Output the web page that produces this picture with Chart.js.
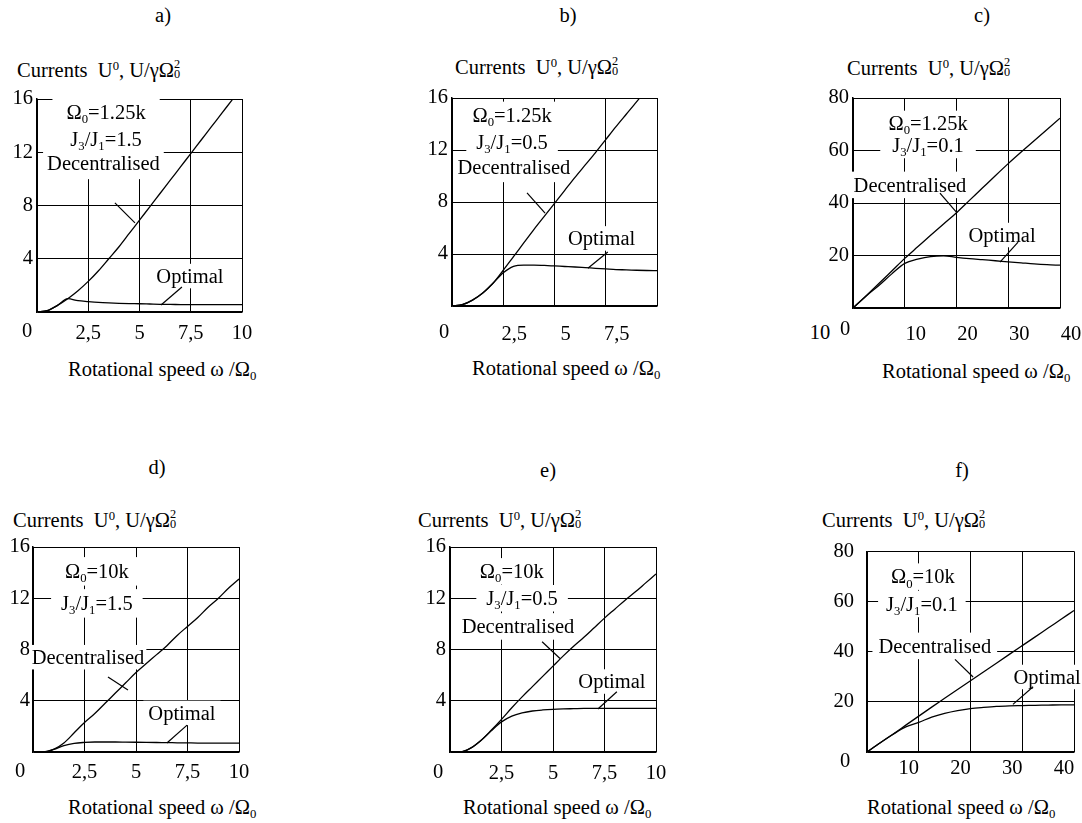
<!DOCTYPE html>
<html><head><meta charset="utf-8">
<script src="https://cdn.jsdelivr.net/npm/chart.js@4.4.1/dist/chart.umd.min.js"></script>
<style>
html,body{margin:0;padding:0;background:#fff;width:1082px;height:823px;overflow:hidden;position:relative;font-family:"Liberation Serif","Times New Roman",serif;color:#000;}
canvas{position:absolute;}
.t{position:absolute;font-size:20.5px;white-space:nowrap;line-height:1;transform:translateY(-50%);}
.c{transform:translate(-50%,-50%);}
sup{font-size:0.62em;vertical-align:0.55em;line-height:0;}
sub{font-size:0.62em;vertical-align:-0.3em;line-height:0;}
.st{display:inline-flex;flex-direction:column;font-size:0.6em;line-height:0.85;vertical-align:0.7em;}
</style>
</head><body>

<div class="t c" style="left:163px;top:15px">a)</div>
<div class="t c" style="left:568px;top:15px">b)</div>
<div class="t c" style="left:982px;top:15px">c)</div>
<div class="t c" style="left:157px;top:467px">d)</div>
<div class="t c" style="left:548px;top:470px">e)</div>
<div class="t c" style="left:962px;top:470px">f)</div>

<div class="t" style="left:17px;top:70px">Currents&nbsp; U<sup>0</sup>, U/γΩ<span class="st"><span>2</span><span>0</span></span></div>
<div class="t" style="left:455px;top:67px">Currents&nbsp; U<sup>0</sup>, U/γΩ<span class="st"><span>2</span><span>0</span></span></div>
<div class="t" style="left:847px;top:68px">Currents&nbsp; U<sup>0</sup>, U/γΩ<span class="st"><span>2</span><span>0</span></span></div>
<div class="t" style="left:13px;top:520px">Currents&nbsp; U<sup>0</sup>, U/γΩ<span class="st"><span>2</span><span>0</span></span></div>
<div class="t" style="left:418px;top:520px">Currents&nbsp; U<sup>0</sup>, U/γΩ<span class="st"><span>2</span><span>0</span></span></div>
<div class="t" style="left:822px;top:520px">Currents&nbsp; U<sup>0</sup>, U/γΩ<span class="st"><span>2</span><span>0</span></span></div>

<div class="t" style="left:68px;top:369px">Rotational speed ω /Ω<sub>0</sub></div>
<div class="t" style="left:472px;top:368px">Rotational speed ω /Ω<sub>0</sub></div>
<div class="t" style="left:882px;top:371px">Rotational speed ω /Ω<sub>0</sub></div>
<div class="t" style="left:68px;top:807px">Rotational speed ω /Ω<sub>0</sub></div>
<div class="t" style="left:463px;top:807px">Rotational speed ω /Ω<sub>0</sub></div>
<div class="t" style="left:867px;top:807px">Rotational speed ω /Ω<sub>0</sub></div>

<div class="t c" style="left:820px;top:332px">10</div>

<canvas id="ca"></canvas><canvas id="cb"></canvas><canvas id="cc"></canvas>
<canvas id="cd"></canvas><canvas id="ce"></canvas><canvas id="cf"></canvas>

<script>
// ---------- data ----------
const speed10 = [0,0.5,1,1.5,2,2.5,3,3.5,4,4.5,5,5.5,6,6.5,7,7.5,8,8.5,9,9.5,10];
const speed40 = [0,2.5,5,7.5,10,12.5,15,17.5,20,22.5,25,27.5,30,32.5,35,37.5,40];

const decA = [0,0.1,0.5,1.0,1.6,2.3,3.1,4.0,4.9,5.9,6.9,7.9,8.9,9.9,10.9,11.9,12.9,13.9,14.9,15.9,16.9];
const optA = [0,0.1,0.5,1.0,0.85,0.78,0.72,0.68,0.65,0.63,0.62,0.6,0.58,0.57,0.56,0.55,0.55,0.55,0.55,0.55,0.55];
const decB = [0,0.1,0.45,1.0,1.75,2.75,3.8,4.85,5.9,6.9,7.9,8.9,9.9,10.85,11.8,12.8,13.8,14.75,15.7,16.7,17.7];
const optB = [0,0.1,0.45,1.0,1.75,2.55,3.05,3.15,3.15,3.12,3.08,3.04,3.0,2.95,2.9,2.85,2.8,2.78,2.75,2.73,2.72];
const decC = [0,4.6,9.3,14.1,18.9,23.3,27.7,32.0,36.3,41.0,45.7,50.4,55.0,59.4,63.7,68.0,72.3];
const optC = [0,4.5,8.6,13.0,17.0,18.6,19.6,19.9,19.3,18.8,18.4,18.0,17.6,17.2,16.8,16.5,16.3];
const decD = [0,0,0.2,0.7,1.5,2.3,3.0,3.8,4.6,5.4,6.2,6.9,7.6,8.3,9.1,9.8,10.5,11.3,12.0,12.8,13.5];
const optD = [0,0,0.2,0.5,0.68,0.75,0.78,0.78,0.78,0.77,0.76,0.75,0.74,0.73,0.72,0.71,0.7,0.7,0.7,0.7,0.7];
const decE = [0,0,0.3,0.9,1.7,2.55,3.45,4.3,5.1,5.9,6.7,7.5,8.25,8.95,9.7,10.45,11.15,11.85,12.5,13.2,13.9];
const optE = [0,0,0.3,0.9,1.65,2.35,2.8,3.05,3.2,3.28,3.33,3.36,3.38,3.4,3.4,3.4,3.4,3.4,3.4,3.4,3.4];
const decF = [0,3.6,7.1,10.7,14.3,17.9,21.4,24.9,28.4,31.9,35.4,38.9,42.4,45.9,49.4,52.9,56.4];
const optF = [0,3.6,7.0,10.0,11.8,13.9,15.4,16.5,17.3,17.8,18.2,18.4,18.5,18.6,18.7,18.8,18.8];

const xTicks10 = [0,2.5,5,7.5,10];
const xLabels10 = ['','2,5','5','7,5','10'];
const xLabelsB = ['','2,5','5','7,5',''];
const xTicks40 = [0,10,20,30,40];
const xLabels40 = ['','10','20','30','40'];
const yTicks16 = [0,4,8,12,16];
const yLabels16 = ['','4','8','12','16'];
const yTicks80 = [0,20,40,60,80];
const yLabels80 = ['','20','40','60','80'];

// ---------- helpers ----------
const FONT = '"Liberation Serif", "Times New Roman", serif';
const FS = 20.5;
const INK = '#000';
Chart.defaults.font.family = FONT;
Chart.defaults.font.size = FS;
Chart.defaults.color = INK;

function partFont(p, size){ return (p[1] ? size*0.62 : size) + 'px ' + FONT; }
function richWidth(ctx, parts, size){
  let w = 0;
  parts.forEach(p => { ctx.font = partFont(p,size); w += ctx.measureText(p[0]).width; });
  return w;
}
function drawRich(ctx, parts, cx, cy, size){
  const w = richWidth(ctx, parts, size);
  let x = cx - w/2;
  const base = cy + size*0.33;
  ctx.textBaseline = 'alphabetic'; ctx.textAlign = 'left'; ctx.fillStyle = INK;
  parts.forEach(p => {
    ctx.font = partFont(p,size);
    const yy = p[1]==='sub' ? base + size*0.2 : p[1]==='sup' ? base - size*0.4 : base;
    ctx.fillText(p[0], x, yy);
    x += ctx.measureText(p[0]).width;
  });
}

const notesPlugin = {
  id: 'notes',
  beforeDatasetsDraw(chart, args, o){
    const ctx = chart.ctx, xs = chart.scales.x, ys = chart.scales.y;
    ctx.save();
    (o.items||[]).forEach(n => {
      const cx = xs.getPixelForValue(n.x), cy = ys.getPixelForValue(n.y);
      const w = richWidth(ctx, n.parts, FS);
      const px = n.padX ?? 5, py = n.padY ?? 2;
      ctx.fillStyle = '#fff';
      ctx.fillRect(cx - w/2 - px, cy - FS*0.5 - py, w + 2*px, FS + 2*py);
    });
    ctx.restore();
  },
  afterDatasetsDraw(chart, args, o){
    const ctx = chart.ctx, xs = chart.scales.x, ys = chart.scales.y;
    ctx.save();
    (o.items||[]).forEach(n => drawRich(ctx, n.parts, xs.getPixelForValue(n.x), ys.getPixelForValue(n.y), FS));
    ctx.strokeStyle = INK; ctx.lineWidth = 1.2;
    (o.leaders||[]).forEach(l => {
      ctx.beginPath();
      ctx.moveTo(xs.getPixelForValue(l[0]), ys.getPixelForValue(l[1]));
      ctx.lineTo(xs.getPixelForValue(l[2]), ys.getPixelForValue(l[3]));
      ctx.stroke();
    });
    if (o.zero){
      ctx.font = FS + 'px ' + FONT; ctx.fillStyle = INK;
      ctx.textAlign = 'center'; ctx.textBaseline = 'middle';
      ctx.fillText('0', xs.getPixelForValue(0) + o.zero[0], chart.chartArea.bottom + o.zero[1]);
    }
    ctx.restore();
  }
};

const YW = 40, PR = 36, PT = 20, XH = 45;

function makePanel(id, box, speeds, dec, opt, xv, xl, xmax, yv, yl, ymax, tk, notes){
  const cv = document.getElementById(id);
  const w = (box[2]-box[0]) + YW + PR, h = (box[3]-box[1]) + PT + XH;
  cv.width = w; cv.height = h;
  cv.style.left = (box[0]-YW) + 'px'; cv.style.top = (box[1]-PT) + 'px';
  const line = d => speeds.map((s,i) => ({x:s, y:d[i]}));
  new Chart(cv, {
    type: 'line',
    data: { datasets: [
      { label: 'Decentralised', data: line(dec), borderColor: INK, borderWidth: 1.3, pointRadius: 0, cubicInterpolationMode: 'monotone', fill: false },
      { label: 'Optimal', data: line(opt), borderColor: INK, borderWidth: 1.3, pointRadius: 0, cubicInterpolationMode: 'monotone', fill: false }
    ]},
    options: {
      responsive: false, animation: false, events: [],
      layout: { padding: { left: 0, top: PT, right: PR, bottom: 0 } },
      plugins: { legend: { display: false }, tooltip: { enabled: false }, notes: notes },
      scales: {
        x: {
          type: 'linear', min: 0, max: xmax,
          afterFit(s){ s.height = XH; },
          afterBuildTicks(s){ s.ticks = xv.map(v => ({value: v})); },
          ticks: { callback: v => xl[xv.indexOf(v)], padding: tk.xpad, labelOffset: tk.xoff, maxRotation: 0, autoSkip: false, color: INK, font: {size: FS, family: FONT} },
          grid: { color: INK, lineWidth: 1, drawTicks: false },
          border: { color: INK, width: 1.5 }
        },
        y: {
          type: 'linear', min: 0, max: ymax,
          afterFit(s){ s.width = YW; },
          afterBuildTicks(s){ s.ticks = yv.map(v => ({value: v})); },
          ticks: { callback: v => yl[yv.indexOf(v)], padding: tk.ypad, autoSkip: false, color: INK, font: {size: FS, family: FONT} },
          grid: { color: INK, lineWidth: 1, drawTicks: false },
          border: { color: INK, width: 1.5 }
        }
      }
    },
    plugins: [notesPlugin]
  });
}

const OM = v => [['Ω'],['0','sub'],['='+v]];
const JJ = v => [['J'],['3','sub'],['/J'],['1','sub'],['='+v]];
const DEC = [['Decentralised']];
const OPT = [['Optimal']];

makePanel('ca', [37,99,242,312], speed10, decA, optA, xTicks10, xLabels10, 10, yTicks16, yLabels16, 16,
  {xpad: 9, xoff: 0, ypad: 4},
  { zero: [-10, 20],
    items: [ {parts: OM('1.25k'), x: 3.37, y: 15.0, padX: 14, padY: 6},
             {parts: JJ('1.5'), x: 3.37, y: 13.0, padX: 14, padY: 4},
             {parts: DEC, x: 3.24, y: 11.2, padX: 4, padY: 6},
             {parts: OPT, x: 7.46, y: 2.7} ],
    leaders: [[3.8, 8.2, 4.78, 6.7], [6.05, 0.53, 7.07, 1.88]] });

makePanel('cb', [452,98,657,306], speed10, decB, optB, xTicks10, xLabelsB, 10, yTicks16, yLabels16, 16,
  {xpad: 16, xoff: 11, ypad: 4},
  { zero: [-8, 27],
    items: [ {parts: OM('1.25k'), x: 2.93, y: 14.7, padX: 10, padY: 3},
             {parts: JJ('0.5'), x: 2.93, y: 12.6, padX: 10, padY: 4},
             {parts: DEC, x: 3.02, y: 10.7, padX: 4, padY: 5},
             {parts: OPT, x: 7.3, y: 5.2} ],
    leaders: [[3.66, 8.7, 4.54, 7.15], [6.63, 2.9, 7.6, 4.15]] });

makePanel('cc', [853,98,1060,308], speed40, decC, optC, xTicks40, xLabels40, 40, yTicks80, yLabels80, 80,
  {xpad: 14, xoff: 11, ypad: 4},
  { zero: [-8, 22],
    items: [ {parts: OM('1.25k'), x: 14.5, y: 70.5, padX: 6, padY: 2},
             {parts: JJ('0.1'), x: 14.5, y: 62.1, padX: 12, padY: 3},
             {parts: DEC, x: 11.0, y: 46.9, padX: 3, padY: 3},
             {parts: OPT, x: 28.8, y: 27.8} ],
    leaders: [[16.8, 43.8, 20.1, 36.2], [28.4, 17.5, 31.9, 25.1]] });

makePanel('cd', [33,547,239,752], speed10, decD, optD, xTicks10, xLabels10, 10, yTicks16, yLabels16, 16,
  {xpad: 8, xoff: 0, ypad: 3},
  { zero: [-13, 20],
    items: [ {parts: OM('10k'), x: 3.1, y: 14.1, padX: 10, padY: 4},
             {parts: JJ('1.5'), x: 3.1, y: 11.6, padX: 10, padY: 4},
             {parts: DEC, x: 2.67, y: 7.4, padX: 2, padY: 2},
             {parts: OPT, x: 7.23, y: 3.05} ],
    leaders: [[3.64, 5.86, 4.61, 4.84], [6.5, 0.7, 7.48, 2.1]] });

makePanel('ce', [450,547,656,752], speed10, decE, optE, xTicks10, xLabels10, 10, yTicks16, yLabels16, 16,
  {xpad: 9, xoff: 0, ypad: 4},
  { zero: [-12, 21],
    items: [ {parts: OM('10k'), x: 3.0, y: 14.1, padX: 8, padY: 3},
             {parts: JJ('0.5'), x: 3.5, y: 12.0, padX: 10, padY: 3},
             {parts: DEC, x: 3.3, y: 9.8, padX: 3, padY: 3},
             {parts: OPT, x: 7.86, y: 5.5} ],
    leaders: [[4.47, 8.6, 5.34, 7.3], [7.18, 3.36, 8.1, 4.7]] });

makePanel('cf', [867,546,1074,752], speed40, decF, optF, xTicks40, xLabels40, 40, yTicks80, yLabels80, 80,
  {xpad: 4, xoff: -10, ypad: 13},
  { zero: [-22, 10],
    items: [ {parts: OM('10k'), x: 10.8, y: 69.9, padX: 8, padY: 3},
             {parts: JJ('0.1'), x: 10.6, y: 59.0, padX: 8, padY: 3},
             {parts: DEC, x: 13.1, y: 42.3, padX: 6, padY: 3},
             {parts: OPT, x: 34.8, y: 29.9, padX: 2} ],
    leaders: [[17.0, 36.9, 20.5, 29.9], [28.2, 19.0, 32.1, 26.0]] });
</script>
</body></html>
